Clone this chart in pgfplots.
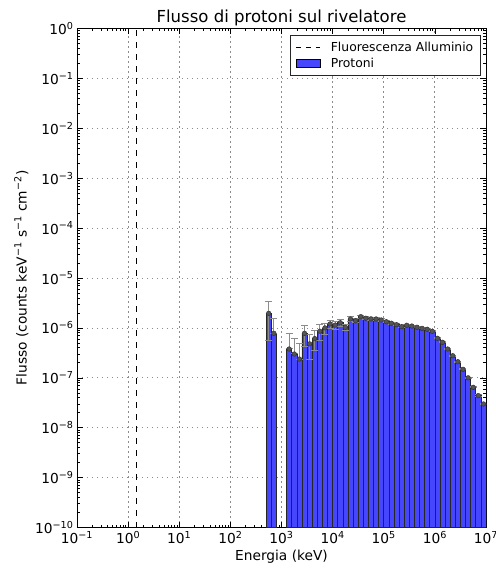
\documentclass[border=0pt]{standalone}
\usepackage{pgfplots}
\pgfplotsset{compat=1.18}
\usepackage{pgfplotstable}
\usepackage{fontspec}
\setmainfont{DejaVu Sans}
\definecolor{barblue}{RGB}{70,70,252}
\definecolor{mkgray}{RGB}{85,85,85}
\definecolor{errgray}{RGB}{140,140,140}
\def\mtk#1{2e#1,3e#1,4e#1,5e#1,6e#1,7e#1,8e#1,9e#1}
\newcommand{\sps}[1]{\textsuperscript{#1}}
\pgfplotsset{
  dashleg/.style={legend image code/.code={\path[draw=none,fill=none] (0bp,-4bp) rectangle (33bp,4bp); \draw[##1] (0bp,0bp) -- (24bp,0bp);}},
  boxleg/.style={legend image code/.code={\path[draw=none,fill=none] (0bp,-4bp) rectangle (33bp,4bp); \draw[##1] (0bp,-4bp) rectangle (24bp,4bp);}},
}

% bins 10^2.7 - 10^2.9 (last row: right edge only)
\pgfplotstableread{
x y
501.19 1.96e-6
630.96 7.8e-7
794.33 7.8e-7
}\binsA
% bins 10^3.1 - 10^7.0 (last row: right edge only)
\pgfplotstableread{
x y
1258.9 3.78e-7
1584.9 3.0e-7
1995.3 2.38e-7
2511.9 7.8e-7
3162.3 4.79e-7
3981.1 6.1e-7
5011.9 8.6e-7
6309.6 1.0e-6
7943.3 1.2e-6
10000 1.14e-6
12589 1.27e-6
15849 1.03e-6
19953 1.51e-6
25119 1.39e-6
31623 1.68e-6
39811 1.56e-6
50119 1.52e-6
63096 1.51e-6
79433 1.44e-6
100000 1.33e-6
125893 1.24e-6
158489 1.16e-6
199526 1.06e-6
251189 1.13e-6
316228 1.09e-6
398107 1.03e-6
501187 9.8e-7
630957 9.4e-7
794328 8.55e-7
1000000 6.2e-7
1258925 5.15e-7
1584893 3.78e-7
1995262 2.77e-7
2511886 2.1e-7
3162278 1.48e-7
3981072 1.0e-7
5011872 6.45e-8
6309573 4.4e-8
7943282 2.99e-8
10000000 2.99e-8
}\binsB
% bin centres with errors
\pgfplotstableread{
x y ep em
562.34 1.96e-6 1.39e-6 1.39e-6
707.95 7.8e-7 7.3e-7 0
1412.5 3.78e-7 4.0e-7 0
1778.3 3.0e-7 3.2e-7 0
2238.7 2.38e-7 2.6e-7 0
2818.4 7.8e-7 3.5e-7 3.5e-7
3548.1 4.79e-7 2.5e-7 2.5e-7
4466.8 6.1e-7 2.6e-7 2.6e-7
5623.4 8.6e-7 2.9e-7 2.9e-7
7079.5 1.0e-6 2.5e-7 2.5e-7
8912.5 1.2e-6 2.2e-7 2.2e-7
11220 1.14e-6 2.0e-7 2.0e-7
14125 1.27e-6 2.0e-7 2.0e-7
17783 1.03e-6 1.6e-7 1.6e-7
22387 1.51e-6 1.5e-7 1.5e-7
28184 1.39e-6 1.3e-7 1.3e-7
35481 1.68e-6 1.2e-7 1.2e-7
44668 1.56e-6 1.0e-7 1.0e-7
56234 1.52e-6 9e-8 9e-8
70795 1.51e-6 8e-8 8e-8
89125 1.44e-6 7e-8 7e-8
112202 1.33e-6 6e-8 6e-8
141254 1.24e-6 5e-8 5e-8
177828 1.16e-6 4e-8 4e-8
223872 1.06e-6 3.5e-8 3.5e-8
281838 1.13e-6 3.5e-8 3.5e-8
354813 1.09e-6 3e-8 3e-8
446684 1.03e-6 3e-8 3e-8
562341 9.8e-7 2.8e-8 2.8e-8
707946 9.4e-7 2.6e-8 2.6e-8
891251 8.55e-7 2.4e-8 2.4e-8
1122018 6.2e-7 1.8e-8 1.8e-8
1412538 5.15e-7 1.5e-8 1.5e-8
1778279 3.78e-7 1.1e-8 1.1e-8
2238721 2.77e-7 8e-9 8e-9
2818383 2.1e-7 6e-9 6e-9
3548134 1.48e-7 4e-9 4e-9
4466836 1.0e-7 3e-9 3e-9
5623413 6.45e-8 2e-9 2e-9
7079458 4.4e-8 1.5e-9 1.5e-9
8912509 2.99e-8 1e-9 1e-9
}\centres

\begin{document}
\begin{tikzpicture}
\path[use as bounding box] (-77bp,-46.5bp) rectangle (419bp,527.5bp);
\begin{axis}[
  at={(0,0)}, anchor=south west, scale only axis,
  width=409bp, height=499bp,
  xmode=log, ymode=log, log origin y=infty,
  xmin=0.1, xmax=1e7, ymin=1e-10, ymax=1,
  xtick={1e-1,1,10,100,1000,1e4,1e5,1e6,1e7},
  xticklabels={10\sps{−1},10\sps{0},10\sps{1},10\sps{2},10\sps{3},10\sps{4},10\sps{5},10\sps{6},10\sps{7}},
  ytick={1e-10,1e-9,1e-8,1e-7,1e-6,1e-5,1e-4,1e-3,1e-2,1e-1,1},
  yticklabels={10\sps{−10},10\sps{−9},10\sps{−8},10\sps{−7},10\sps{−6},10\sps{−5},10\sps{−4},10\sps{−3},10\sps{−2},10\sps{−1},10\sps{0}},
  minor xtick/.expanded={\mtk{-1},\mtk{0},\mtk{1},\mtk{2},\mtk{3},\mtk{4},\mtk{5},\mtk{6}},
  minor ytick/.expanded={\mtk{-10},\mtk{-9},\mtk{-8},\mtk{-7},\mtk{-6},\mtk{-5},\mtk{-4},\mtk{-3},\mtk{-2},\mtk{-1}},
  grid=major, grid style={black!45, line width=0.8bp, dash pattern=on 1.2bp off 3.8bp},
  tick align=inside, xtick pos=both, ytick pos=both,
  major tick length=6bp, minor tick length=3bp,
  every tick/.style={black, line width=0.6bp},
  axis line style={black, line width=0.8bp},
  tick label style={font=\fontsize{13.8}{16}\selectfont},
  label style={font=\fontsize{13.8}{16}\selectfont},
  title style={font=\fontsize{16.6}{19}\selectfont, yshift=-7bp},
  title={Flusso di protoni sul rivelatore},
  xlabel={Energia (keV)},
  ylabel={Flusso (counts keV\sps{−1} s\sps{−1} cm\sps{−2})},
  legend style={at={(rel axis cs:0.987,0.986)}, anchor=north east, draw=black!85, line width=0.8bp,
    font=\fontsize{12.4}{15}\selectfont, inner xsep=5bp, inner ysep=4bp, row sep=1.5bp,
    cells={anchor=west}},
]
\addplot[ybar interval, fill=barblue, draw=black!85, line width=0.6bp, forget plot] table[x=x, y=y] \binsA;
\addplot[ybar interval, fill=barblue, draw=black!85, line width=0.6bp, forget plot] table[x=x, y=y] \binsB;
\addplot[black, line width=1bp, dash pattern=on 6bp off 6bp, forget plot] coordinates {(1.4867,1e-10) (1.4867,1)};
\addplot[only marks, mark=*, mark size=2.3bp, mark options={fill=mkgray, draw=black!80, line width=0.5bp}, forget plot,
  error bars/.cd, y dir=both, y explicit,
  error bar style={errgray, line width=1bp},
  error mark options={errgray, rotate=90, mark size=3.5bp, line width=1bp}]
  table[x=x, y=y, y error plus=ep, y error minus=em] \centres;
\addlegendimage{dashleg, black, line width=1bp, dash pattern=on 5bp off 5bp}
\addlegendentry{Fluorescenza Alluminio}
\addlegendimage{boxleg, fill=barblue, draw=black, line width=0.6bp}
\addlegendentry{Protoni}
\end{axis}
\end{tikzpicture}
\end{document}
